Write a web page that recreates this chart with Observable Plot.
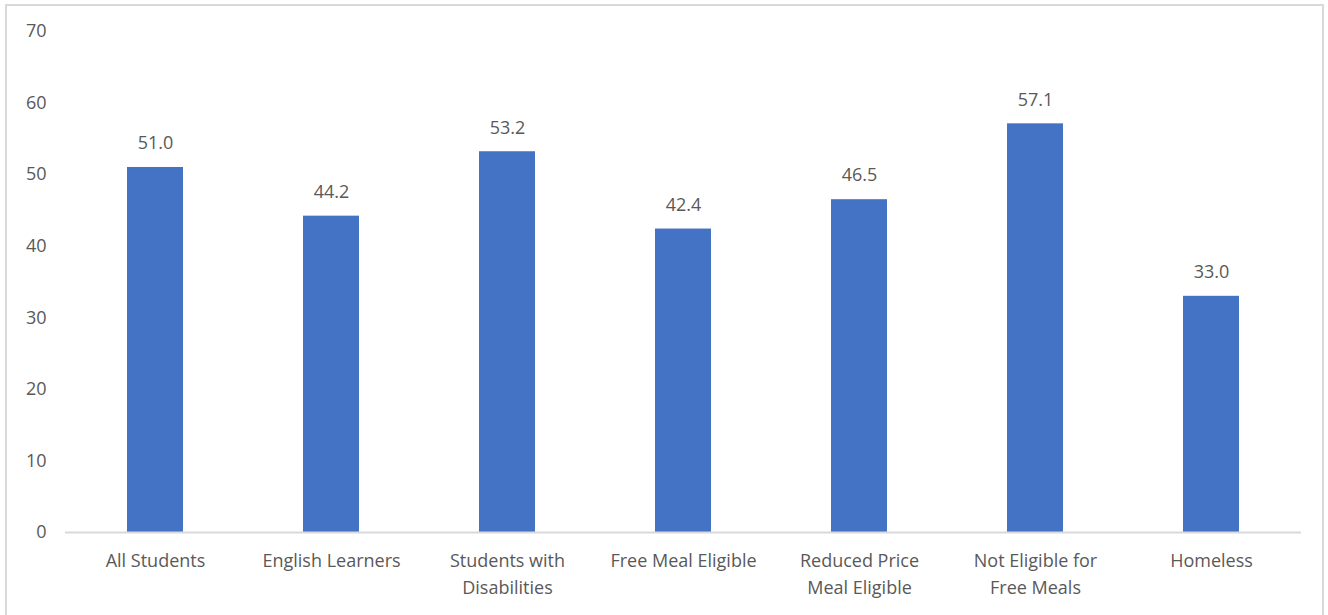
<!DOCTYPE html>
<html>
<head>
<meta charset="utf-8">
<script src="https://cdn.jsdelivr.net/npm/d3@7"></script>
<script src="https://cdn.jsdelivr.net/npm/@observablehq/plot@0.6"></script>
<style>
  html, body { margin: 0; padding: 0; background: #fff; }
  #wrap { position: relative; width: 1328px; height: 615px; overflow: hidden; }
  #border { position: absolute; left: 5px; top: 4px; width: 1319px; height: 640px; border: 2px solid #d9d9d9; box-sizing: border-box; }
  #chart { position: absolute; left: 0; top: 0; }
</style>
</head>
<body>
<div id="wrap"><div id="border"></div><div id="chart"></div></div>
<script>
const categories = ["All Students", "English Learners", "Students with Disabilities", "Free Meal Eligible", "Reduced Price Meal Eligible", "Not Eligible for Free Meals", "Homeless"];
const tickLabels = ["All Students", "English Learners", "Students with\nDisabilities", "Free Meal Eligible", "Reduced Price\nMeal Eligible", "Not Eligible for\nFree Meals", "Homeless"];
const values = [51.0, 44.2, 53.2, 42.4, 46.5, 57.1, 33.0];
const yTicks = [0, 10, 20, 30, 40, 50, 60, 70];

const data = categories.map((c, i) => ({category: c, value: values[i]}));
const labelOf = new Map(categories.map((c, i) => [c, tickLabels[i]]));

const font = "'Open Sans', Lato, sans-serif";
const chart = Plot.plot({
  width: 1328,
  height: 615,
  marginLeft: 65,
  marginRight: 27,
  marginTop: 31,
  marginBottom: 83,
  style: {fontFamily: font, fontSize: "18px", color: "#595959", background: "transparent"},
  x: {domain: categories, paddingInner: 0.683, paddingOuter: 0.3415, label: null},
  y: {domain: [0, 70], label: null},
  marks: [
    Plot.axisY({ticks: yTicks, tickSize: 0, tickPadding: 19, label: null, fontSize: 18, fill: "#595959"}),
    Plot.axisX({tickSize: 0, tickPadding: 15, tickFormat: d => labelOf.get(d), lineHeight: 1.5, label: null, fontSize: 18, fill: "#595959"}),
    Plot.barY(data, {x: "category", y: "value", fill: "#4472C4"}),
    Plot.ruleY([0], {stroke: "#d9d9d9", strokeWidth: 2}),
    Plot.text(data, {x: "category", y: "value", text: d => d.value.toFixed(1), dy: -24, fontSize: 18, fill: "#595959"})
  ]
});
document.getElementById("chart").appendChild(chart);
</script>
</body>
</html>
